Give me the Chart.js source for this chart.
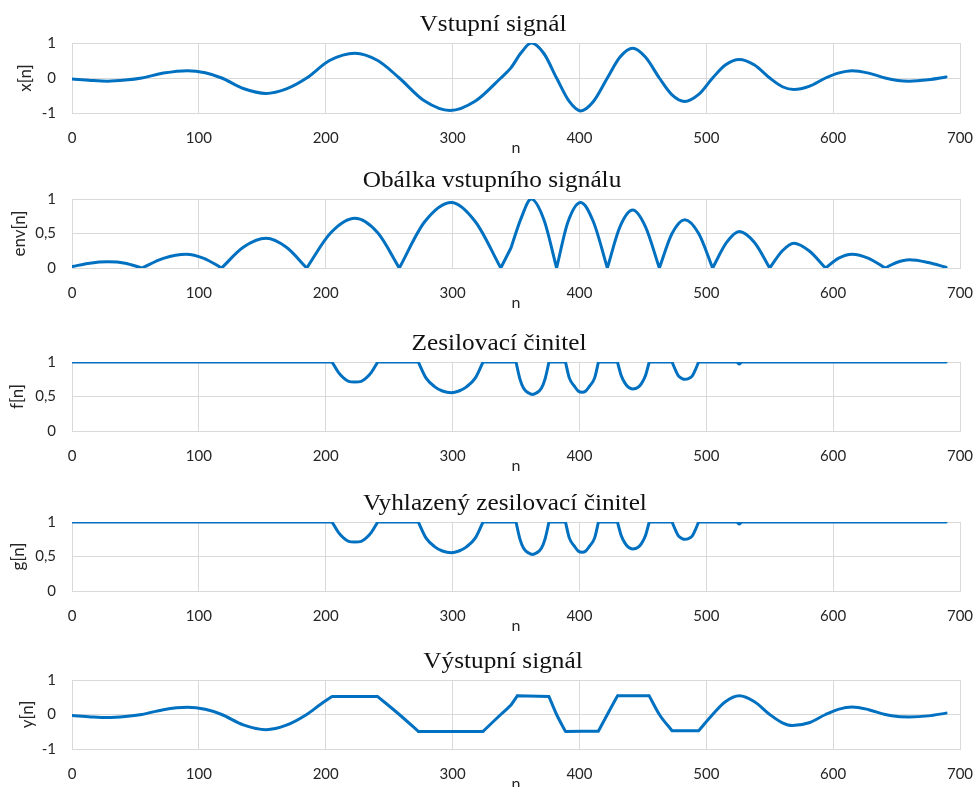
<!DOCTYPE html>
<html>
<head>
<meta charset="utf-8">
<script src="https://cdn.jsdelivr.net/npm/chart.js@4"></script>
<style>
  html,body{margin:0;padding:0;background:#fff;overflow:hidden}
  body{width:976px;height:787px;position:relative}
  canvas{position:absolute;left:0}
  .ttl{position:absolute;font-family:'Liberation Serif','DejaVu Serif',serif;font-size:23px;color:#111;
       white-space:nowrap;transform:translate(-50%,-50%) scaleX(1.1);z-index:2}
</style>
</head>
<body>
<div class="ttl" style="left:493px;top:24px">Vstupní signál</div>
<div class="ttl" style="left:492px;top:180px">Obálka vstupního signálu</div>
<div class="ttl" style="left:499px;top:343px">Zesilovací činitel</div>
<div class="ttl" style="left:505px;top:503px">Vyhlazený zesilovací činitel</div>
<div class="ttl" style="left:503px;top:661px">Výstupní signál</div>

<canvas id="c1" width="976" height="126" style="top:31px"></canvas>
<canvas id="c2" width="976" height="125" style="top:187px"></canvas>
<canvas id="c3" width="976" height="125" style="top:350px"></canvas>
<canvas id="c4" width="976" height="125" style="top:510px"></canvas>
<canvas id="c5" width="976" height="125" style="top:668px"></canvas>

<script>
/* ---------- data (null = break in the line) ---------- */
// x[n] vstupní signál
const inN = [0,15,28,42,55,72,91,105,118,135,153,169,185,203,223,241,258,278,298,318,338,346,354,362,372,382,392,401,411,422,432,442,452,463,473,483,494,505,515,526,538,550,560,569,581,594,604,615,628,641,651,660,675,689];
const inV = [-0.03,-0.07,-0.09,-0.06,0,0.14,0.21,0.15,0,-0.3,-0.44,-0.31,0,0.5,0.71,0.5,0,-0.66,-0.93,-0.66,0,0.29,0.72,1.0,0.7,0,-0.67,-0.94,-0.67,0,0.6,0.85,0.6,0,-0.48,-0.67,-0.47,0,0.37,0.53,0.37,0,-0.25,-0.33,-0.24,0,0.14,0.21,0.14,0,-0.07,-0.09,-0.05,0.03];

// env[n] obálka
const envN = [0,14,28,42,55, 55, 55,72,90,104,118, 118, 118,135,153,169,185, 185, 185,204,223,241,258, 258,
              258,278,299,318,338, 338, 338,346, 346, 346,354,362,372,382, 382, 382,391,401,411,422, 422,
              422,432,442,452,463, 463, 463,473,483,494,505, 505, 505,516,526,538,550, 550,
              550,560,569,581,594, 594, 594,604,615,628,641, 641, 641,650,660,675,689];
const envV = [0.02,0.07,0.09,0.07,0, null, 0,0.14,0.2,0.14,0, null, 0,0.3,0.43,0.3,0, null, 0,0.51,0.72,0.51,0, null,
              0,0.67,0.95,0.67,0, null, 0,0.29, null, 0.29,0.72,1.0,0.7,0, null, 0,0.67,0.95,0.67,0, null,
              0,0.6,0.84,0.6,0, null, 0,0.5,0.7,0.5,0, null, 0,0.37,0.53,0.37,0, null,
              0,0.25,0.36,0.25,0, null, 0,0.14,0.2,0.14,0, null, 0,0.08,0.12,0.08,0.01];

// f[n] zesilovací činitel
const fN = [0,205, 205, 205,210,214,218,223,228,232,236,241, 241, 241,273, 273,
            273,279,286,292,299,305,311,318,324, 324, 324,350, 350,
            350,353,356,360,363,366,370,373,376, 376, 376,389, 389,
            389,392,396,399,402,405,408,412,415, 415, 415,430, 430,
            430,433,436,439,442,446,449,452,455, 455, 455,473, 473,
            473,476,478,481,483,486,489,491,494, 494, 494,524,526,528,689];
const fV = [1,1, null, 1,0.85,0.77,0.72,0.71,0.72,0.77,0.85,1, null, 1,1, null,
            1,0.77,0.64,0.58,0.555,0.58,0.64,0.77,1, null, 1,1, null,
            1,0.76,0.62,0.55,0.53,0.55,0.62,0.76,1, null, 1,1, null,
            1,0.77,0.65,0.58,0.56,0.58,0.65,0.77,1, null, 1,1, null,
            1,0.8,0.69,0.63,0.61,0.63,0.69,0.8,1, null, 1,1, null,
            1,0.87,0.8,0.76,0.75,0.76,0.8,0.87,1, null, 1,1,0.97,1,1];

// g[n] vyhlazený zesilovací činitel
const gN = [0,205, 205, 205,210,214,218,223,228,232,236,241, 241, 241,273, 273,
            273,279,286,292,299,305,311,318,324, 324, 324,350, 350,
            350,353,356,360,363,366,370,373,376, 376, 376,389, 389,
            389,392,396,399,402,405,408,412,415, 415, 415,430, 430,
            430,433,436,439,442,446,449,452,455, 455, 455,473, 473,
            473,476,478,481,483,486,489,491,494, 494, 494,524,526,528,689];
const gV = [1,1, null, 1,0.85,0.77,0.72,0.71,0.72,0.77,0.85,1, null, 1,1, null,
            1,0.77,0.64,0.58,0.555,0.58,0.64,0.77,1, null, 1,1, null,
            1,0.76,0.62,0.55,0.53,0.55,0.62,0.76,1, null, 1,1, null,
            1,0.77,0.65,0.58,0.56,0.58,0.65,0.77,1, null, 1,1, null,
            1,0.8,0.69,0.63,0.61,0.63,0.69,0.8,1, null, 1,1, null,
            1,0.87,0.8,0.76,0.75,0.76,0.8,0.87,1, null, 1,1,0.97,1,1];

// y[n] výstupní signál
const outN = [0,15,28,42,55,72,91,105,118,135,153,169,185,196,205, 205,
              205,241, 241, 241,258,273, 273, 273,324, 324, 324,338,346, 346, 346,351, 351,
              351,376, 376, 376,382,389, 389, 389,415, 415, 415,422,430, 430, 430,455, 455,
              455,463,473, 473, 473,494, 494,
              494,505,515,526,538,550,560,568,581,594,604,615,628,641,651,660,675,689];
const outV = [-0.03,-0.07,-0.09,-0.06,0,0.14,0.21,0.15,0,-0.3,-0.44,-0.31,0,0.3,0.52, null,
              0.52,0.52, null, 0.52,0,-0.49, null, -0.49,-0.49, null, -0.49,0,0.27, null, 0.27,0.54, null,
              0.54,0.52, null, 0.52,0,-0.49, null, -0.49,-0.48, null, -0.48,0,0.54, null, 0.54,0.54, null,
              0.54,0,-0.47, null, -0.47,-0.47, null,
              -0.47,0,0.37,0.54,0.37,0,-0.24,-0.32,-0.24,0,0.15,0.22,0.14,0,-0.06,-0.07,-0.04,0.04];

/* ---------- společné nastavení ---------- */
const BLUE = '#0070C0', GRID = '#d9d9d9', INK = '#262626';
const TICKFONT = {family:"Lato, 'Open Sans', sans-serif", size:15};
const YTITLEFONT = {family:"Lato, 'Open Sans', sans-serif", size:17};
const pts = (ns, vs) => ns.map((n,i) => ({x:n, y:vs[i]}));
const comma = v => String(v).replace('.', ',');

function graf(id, data, yLabel, yMin, yMax, yStep, yTitlePad){
  return new Chart(document.getElementById(id), {
    type:'line',
    data:{datasets:[{data, borderColor:BLUE, borderWidth:3, pointRadius:0, fill:false,
      cubicInterpolationMode:'monotone', borderCapStyle:'round', borderJoinStyle:'round'}]},
    options:{
      responsive:false, animation:false, events:[],
      layout:{padding:0},
      plugins:{legend:{display:false}, tooltip:{enabled:false}},
      scales:{
        x:{type:'linear', min:0, max:700,
           ticks:{stepSize:100, padding:16, font:TICKFONT, color:INK, maxRotation:0},
           grid:{color:GRID, drawTicks:false}, border:{color:GRID},
           title:{display:true, text:'n', font:{...TICKFONT, size:16}, color:INK, padding:{top:0, bottom:0}},
           afterFit:s => { s.height = 44; s.paddingLeft = 0; s.paddingRight = 16; }},
        y:{min:yMin, max:yMax,
           ticks:{stepSize:yStep, padding:16, font:TICKFONT, color:INK, callback:comma},
           grid:{color:GRID, drawTicks:false}, border:{color:GRID},
           title:{display:true, text:yLabel, font:YTITLEFONT, color:INK, padding:{top:yTitlePad, bottom:0}},
           afterFit:s => { s.width = 72; s.paddingTop = 12; s.paddingBottom = 0; }}
      }
    }
  });
}

graf('c1', pts(inN, inV),   'x[n]',   -1, 1, 1,   15);
graf('c2', pts(envN, envV), 'env[n]',  0, 1, 0.5,  9);
graf('c3', pts(fN, fV),     'f[n]',    0, 1, 0.5,  7);
graf('c4', pts(gN, gV),     'g[n]',    0, 1, 0.5,  8);
graf('c5', pts(outN, outV), 'y[n]',   -1, 1, 1,   17);
</script>
</body>
</html>
